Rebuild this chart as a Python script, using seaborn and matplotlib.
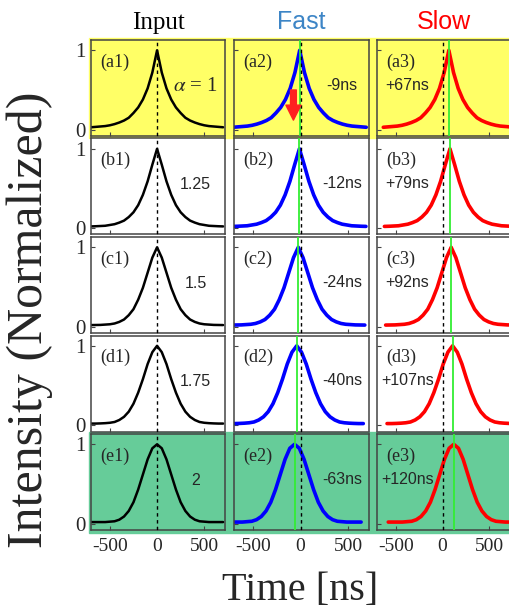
import numpy as np
import pandas as pd
import matplotlib
matplotlib.use("Agg")
import matplotlib.pyplot as plt
import seaborn as sns
from matplotlib.patches import Rectangle, FancyArrowPatch

sns.set_style("ticks")
plt.rcParams["font.family"] = ["Liberation Serif", "DejaVu Serif"]
plt.rcParams["mathtext.fontset"] = "stix"
plt.rcParams["axes.unicode_minus"] = False

# %%
# Values

col_titles = ["Input", "Fast", "Slow"]
row_tags = ["a", "b", "c", "d", "e"]
alpha_labels = [r"$\alpha$ = 1", "1.25", "1.5", "1.75", "2"]
fast_delays = [-9, -12, -24, -40, -63]
slow_delays = [67, 79, 92, 107, 120]

# one-sided pulse profiles (normalized intensity) at t = 0, 50, ..., 700 ns
t_half = [0, 50, 100, 150, 200, 250, 300, 350, 400, 450, 500, 550, 600, 650, 700]
pulse_a = [1.00, 0.72, 0.52, 0.38, 0.28, 0.21, 0.15, 0.115, 0.09, 0.07, 0.055, 0.045, 0.04, 0.035, 0.03]
pulse_b = [1.00, 0.80, 0.59, 0.42, 0.29, 0.20, 0.14, 0.095, 0.07, 0.05, 0.04, 0.03, 0.027, 0.024, 0.022]
pulse_c = [1.00, 0.87, 0.68, 0.49, 0.34, 0.22, 0.145, 0.09, 0.06, 0.04, 0.03, 0.026, 0.022, 0.021, 0.02]
pulse_d = [1.00, 0.92, 0.77, 0.58, 0.41, 0.27, 0.17, 0.105, 0.065, 0.04, 0.03, 0.025, 0.022, 0.02, 0.02]
pulse_e = [1.00, 0.95, 0.81, 0.62, 0.43, 0.27, 0.16, 0.09, 0.05, 0.03, 0.025, 0.02, 0.02, 0.02, 0.02]
pulses = [pulse_a, pulse_b, pulse_c, pulse_d, pulse_e]

# %%
# Styling

line_colors = ["black", "#0000ff", "#ff0000"]
line_widths = [1.8, 2.6, 2.6]
title_colors = ["black", "#3d85c6", "#ff0000"]
title_fonts = ["Liberation Serif", "Liberation Sans", "Liberation Sans"]
row_bg = ["#ffff66", "white", "white", "white", "#66cc99"]
green = "#33ee33"

fig = plt.figure(figsize=(5.10, 6.11), dpi=100)
W, H = 510, 611
lefts = [91, 234, 377]
widths = [134, 135, 133]
tops = [40, 138.5, 237, 335.5, 434]
height = 96

# coloured bands behind first and last row
fig.add_artist(Rectangle((89 / W, 1 - 138 / H), 1 - 89 / W, 100 / H,
                         transform=fig.transFigure, color=row_bg[0], zorder=-10))
fig.add_artist(Rectangle((89 / W, 1 - 533 / H), 1 - 89 / W, 101 / H,
                         transform=fig.transFigure, color=row_bg[4], zorder=-10))

for i in range(5):
    t = np.array(t_half[::-1][:-1] + t_half, dtype=float)
    t[:len(t_half) - 1] *= -1
    y = np.array(pulses[i][::-1][:-1] + pulses[i])
    shifts = [0, fast_delays[i], slow_delays[i]]
    for j in range(3):
        ax = fig.add_axes([lefts[j] / W, 1 - (tops[i] + height) / H, widths[j] / W, height / H])
        ax.set_facecolor(row_bg[i])
        df = pd.DataFrame({"t": t + shifts[j], "I": y})
        sns.lineplot(data=df, x="t", y="I", ax=ax, color=line_colors[j],
                     lw=line_widths[j], errorbar=None, zorder=2)
        if j > 0:
            ax.axvline(shifts[j], color=green, lw=1.3, zorder=3)
        ax.axvline(0, color="black", lw=1.0, ls=(0, (2.5, 2.5)), zorder=4)

        ax.set_xlim(-700, 720)
        ax.set_ylim(-0.08, 1.13)
        ax.set_xticks([-500, 0, 500])
        ax.set_yticks([0, 1])
        ax.set_xlabel("")
        ax.set_ylabel("")
        ax.tick_params(direction="in", length=3, width=0.8, color="#444444",
                       labelsize=14, pad=6)
        ax.tick_params(axis="y", labelsize=15, pad=4)
        if j > 0:
            ax.set_yticklabels([])
        if i < 4:
            ax.set_xticklabels([])
        for s in ax.spines.values():
            s.set_color("#444444")
            s.set_linewidth(1.1)

        ax.text(0.07, 0.86, f"({row_tags[i]}{j + 1})", transform=ax.transAxes,
                fontsize=13, ha="left", va="top")
        if j == 0:
            fam = "Liberation Serif" if i == 0 else "Liberation Sans"
            size = 15 if i == 0 else 11.5
            ax.text(0.78, 0.52, alpha_labels[i], transform=ax.transAxes,
                    fontsize=size, fontfamily=fam, ha="center", va="center")
        elif j == 1:
            ax.text(0.8, 0.53, f"{fast_delays[i]}ns", transform=ax.transAxes,
                    fontsize=11.5, fontfamily="Liberation Sans", ha="center", va="center")
        else:
            ax.text(0.23, 0.53, f"+{slow_delays[i]}ns", transform=ax.transAxes,
                    fontsize=11.5, fontfamily="Liberation Sans", ha="center", va="center")

        if i == 0:
            ax.set_title(col_titles[j], color=title_colors[j], fontsize=18,
                         fontfamily=title_fonts[j], pad=8)
            if j == 1:
                arrow = FancyArrowPatch((-75, 0.50), (-75, 0.12),
                                        arrowstyle="simple,head_length=0.9,head_width=0.9,tail_width=0.35",
                                        mutation_scale=12, color="#ff2020",
                                        shrinkA=0, shrinkB=0, zorder=6)
                ax.add_patch(arrow)

fig.text(0.058, 0.476, "Intensity (Normalized)", rotation=90, fontsize=36,
         ha="center", va="center")
fig.text(0.588, 0.034, "Time [ns]", fontsize=29, ha="center", va="center")

fig.savefig("out.png", dpi=100)
